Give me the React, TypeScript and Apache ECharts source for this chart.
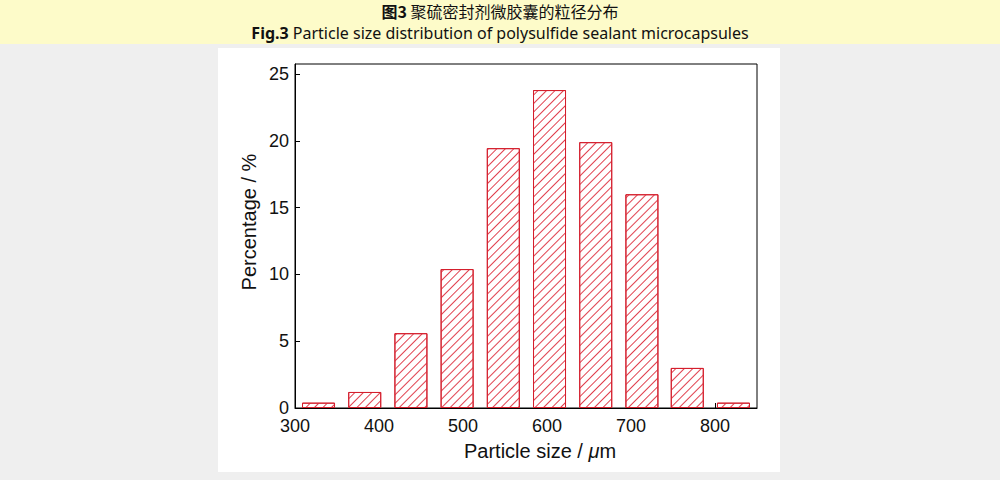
import React, { useEffect, useRef } from 'react';
import * as echarts from 'echarts';

// Bin centres (µm)
const binCenters = [328, 383, 438, 493, 548, 603, 658, 713, 767, 822];
const percentages = [0.4, 1.2, 5.6, 10.4, 19.45, 23.8, 19.9, 16.0, 3.0, 0.4];

const xMin = 300;
const xMax = 850;
const xStep = 100;
const yMin = 0;
const yMax = 25.75;
const yStep = 5;

const titleCn = '聚硫密封剂微胶囊的粒径分布';
const titleEn = 'Particle size distribution of polysulfide sealant microcapsules';

export default function App() {
  const ref = useRef<HTMLDivElement>(null);
  useEffect(() => {
    const chart = echarts.init(ref.current!, null, { renderer: 'svg' });
    const axisFont = 'Liberation Sans, Arial, sans-serif';
    chart.setOption({
      animation: false,
      backgroundColor: '#efefef',
      graphic: [
        { type: 'rect', z: -100, silent: true, shape: { x: 0, y: 0, width: 1000, height: 44 }, style: { fill: '#fdfbc9' } },
        { type: 'rect', z: -100, silent: true, shape: { x: 218, y: 48, width: 562, height: 424 }, style: { fill: '#ffffff' } },
      ],
      title: [
        {
          text: '{b|图3} ' + titleCn,
          left: 'center',
          top: 3,
          padding: 0,
          textStyle: {
            fontSize: 16,
            lineHeight: 16,
            fontWeight: 'normal',
            fontFamily: 'Noto Sans CJK SC',
            color: '#111',
            rich: { b: { fontSize: 16, lineHeight: 16, fontWeight: 'bold', fontFamily: 'Noto Sans CJK SC', color: '#111' } },
          },
        },
        {
          text: '{b|Fig.3} ' + titleEn,
          left: 'center',
          top: 25,
          padding: 0,
          textStyle: {
            fontSize: 16,
            lineHeight: 16,
            fontWeight: 'normal',
            fontFamily: 'Noto Sans',
            color: '#111',
            rich: { b: { fontSize: 16, lineHeight: 16, fontWeight: 'bold', fontFamily: 'Noto Sans', color: '#111' } },
          },
        },
      ],
      grid: {
        left: 295,
        right: 243,
        top: 64,
        bottom: 72,
        show: true,
        borderColor: '#000',
        borderWidth: 1,
        backgroundColor: '#fff',
      },
      xAxis: {
        type: 'value',
        min: xMin,
        max: xMax,
        interval: xStep,
        name: '{n|Particle size / }{i|μ}{n|m}',
        nameLocation: 'middle',
        nameGap: 33,
        nameTextStyle: {
          padding: [0, 0, 0, 28],
          rich: {
            n: { fontSize: 20, fontFamily: axisFont, color: '#111' },
            i: { fontSize: 20, fontFamily: axisFont, fontStyle: 'italic', color: '#111' },
          },
        },
        axisLine: { show: true, lineStyle: { color: '#000', width: 1 } },
        axisTick: { show: true, inside: true, length: 5, lineStyle: { color: '#000' } },
        axisLabel: { fontSize: 18, lineHeight: 14, fontFamily: axisFont, color: '#111', margin: 11, showMaxLabel: false },
        splitLine: { show: false },
      },
      yAxis: {
        type: 'value',
        min: yMin,
        max: yMax,
        interval: yStep,
        name: 'Percentage / %',
        nameLocation: 'middle',
        nameGap: 36,
        nameTextStyle: { fontSize: 20, fontFamily: axisFont, color: '#111', padding: [0, 0, 0, 28] },
        axisLine: { show: true, lineStyle: { color: '#000', width: 1 } },
        axisTick: { show: true, inside: true, length: 5, lineStyle: { color: '#000' } },
        axisLabel: { fontSize: 18, lineHeight: 14, fontFamily: axisFont, color: '#111', margin: 6, showMaxLabel: false },
        splitLine: { show: false },
      },
      series: [
        {
          type: 'bar',
          data: binCenters.map((x, i) => [x, percentages[i]]),
          barWidth: 33,
          itemStyle: {
            color: '#ffffff',
            borderColor: '#d41f2d',
            borderWidth: 1,
            decal: {
              symbol: 'rect',
              symbolSize: 1,
              color: '#e0404e',
              dashArrayX: [1, 0],
              dashArrayY: [1, 4.5],
              rotation: -Math.PI / 4,
            },
          },
        },
      ],
    });
    return () => chart.dispose();
  }, []);
  return <div ref={ref} style={{ position: 'absolute', left: 0, top: 0, width: 1000, height: 480 }} />;
}
